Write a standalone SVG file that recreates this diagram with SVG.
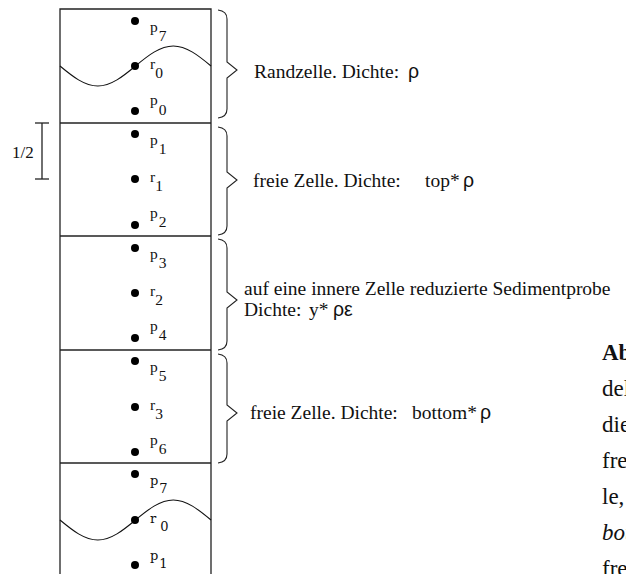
<svg xmlns="http://www.w3.org/2000/svg" width="626" height="574" viewBox="0 0 626 574">
  <style>
    .frame { fill: none; stroke: #222; stroke-width: 1.3; }
    .wave { fill: none; stroke: #111; stroke-width: 1.1; }
    .brace { fill: none; stroke: #222; stroke-width: 1.1; }
    .dot { fill: #000; }
    .lbl { font-family: "Liberation Serif", "Times New Roman", serif; font-size: 15.5px; fill: #111; }
    .lbl5 { font-family: "DejaVu Serif", serif; font-size: 13px; fill: #111; }
    .txt { font-family: "Liberation Serif", "Times New Roman", serif; font-size: 19.5px; fill: #111; }
    .greek { font-family: "Liberation Sans", Arial, sans-serif; }
    .body { font-family: "Liberation Serif", "Times New Roman", serif; font-size: 23px; fill: #111; }
  </style>

  <rect width="626" height="574" fill="#fff"/>

  <!-- column outline and cell dividers -->
  <g id="column" class="frame">
    <path d="M60,574 V9 H211 V574"/>
    <line x1="60" y1="123" x2="211" y2="123"/>
    <line x1="60" y1="236" x2="211" y2="236"/>
    <line x1="60" y1="350" x2="211" y2="350"/>
    <line x1="60" y1="463" x2="211" y2="463"/>
  </g>

  <!-- half-cell dimension -->
  <g id="half-mark">
    <g class="frame">
      <line x1="42" y1="123" x2="42" y2="179"/>
      <line x1="35" y1="123" x2="49" y2="123"/>
      <line x1="35" y1="179" x2="49" y2="179"/>
    </g>
    <text x="12" y="158" class="txt" style="font-size:17px">1/2</text>
  </g>

  <!-- cell 1: boundary cell -->
  <g id="cell-rand-top">
    <path class="wave" d="M60,66 C72.3,76.3 84.5,86 97.8,86 C111,86 123.2,76.3 135.5,66 C147.8,55.7 160,46 173.3,46 C186.5,46 198.7,55.7 211,66"/>
    <circle class="dot" cx="135" cy="21" r="4"/>
    <circle class="dot" cx="135" cy="66" r="4"/>
    <circle class="dot" cx="135" cy="111" r="4"/>
    <text class="lbl" x="150" y="32">p<tspan dx="1" dy="9">7</tspan></text>
    <text class="lbl" x="150" y="69">r<tspan dx="0" dy="9">0</tspan></text>
    <text class="lbl" x="150" y="105">p<tspan dx="1" dy="10">0</tspan></text>
  </g>

  <!-- cell 2: free cell -->
  <g id="cell-free-top">
    <circle class="dot" cx="135" cy="134" r="4"/>
    <circle class="dot" cx="135" cy="179" r="4"/>
    <circle class="dot" cx="135" cy="225" r="4"/>
    <text class="lbl" x="150" y="145">p<tspan dx="1" dy="9">1</tspan></text>
    <text class="lbl" x="150" y="182">r<tspan dx="0" dy="9">1</tspan></text>
    <text class="lbl" x="150" y="218">p<tspan dx="1" dy="9">2</tspan></text>
  </g>

  <!-- cell 3: reduced sample cell -->
  <g id="cell-sample">
    <circle class="dot" cx="135" cy="248" r="4"/>
    <circle class="dot" cx="135" cy="293" r="4"/>
    <circle class="dot" cx="135" cy="338" r="4"/>
    <text class="lbl" x="150" y="259">p<tspan dx="1" dy="9">3</tspan></text>
    <text class="lbl" x="150" y="296">r<tspan dx="0" dy="9">2</tspan></text>
    <text class="lbl" x="150" y="331">p<tspan dx="1" dy="9">4</tspan></text>
  </g>

  <!-- cell 4: free cell -->
  <g id="cell-free-bottom">
    <circle class="dot" cx="135" cy="361" r="4"/>
    <circle class="dot" cx="135" cy="407" r="4"/>
    <circle class="dot" cx="135" cy="452" r="4"/>
    <text class="lbl" x="150" y="372">p<tspan dx="1" dy="9">5</tspan></text>
    <text class="lbl" x="150" y="410">r<tspan dx="0" dy="9">3</tspan></text>
    <text class="lbl" x="150" y="445">p<tspan dx="1" dy="9">6</tspan></text>
  </g>

  <!-- cell 5: boundary cell (periodic repeat) -->
  <g id="cell-rand-bottom">
    <path class="wave" d="M60,520 C72.3,530.3 84.5,540 97.8,540 C111,540 123.2,530.3 135.5,520 C147.8,509.7 160,500 173.3,500 C186.5,500 198.7,509.7 211,520"/>
    <circle class="dot" cx="135" cy="474" r="4"/>
    <circle class="dot" cx="135" cy="520" r="4"/>
    <circle class="dot" cx="135" cy="565" r="4"/>
    <text class="lbl5" x="150" y="485">p<tspan dx="1" dy="8">7</tspan></text>
    <text class="lbl5" x="150" y="523">r<tspan dx="4" dy="8">0</tspan></text>
    <text class="lbl5" x="150" y="560">p<tspan dx="1" dy="8">1</tspan></text>
  </g>

  <!-- braces -->
  <g id="connectors" class="brace">
    <path d="M218,10 Q227,11 227,19 L227,62 L237,70 L227,78 L227,109 Q227,117 218,118"/>
    <path d="M218,127 Q227,128 227,136 L227,172 L237,180 L227,188 L227,226 Q227,234 218,235"/>
    <path d="M218,239 Q227,240 227,248 L227,292 L237,300 L227,308 L227,341 Q227,349 218,350"/>
    <path d="M218,354 Q227,355 227,363 L227,405 L237,413 L227,421 L227,454 Q227,462 218,463"/>
  </g>

  <!-- brace labels -->
  <g id="labels" class="txt">
    <text x="254" y="78">Randzelle. Dichte:<tspan class="greek" x="408">ρ</tspan></text>
    <text x="253" y="187">freie Zelle. Dichte:<tspan x="425">top*</tspan><tspan class="greek" x="463">ρ</tspan></text>
    <text x="244" y="295">auf eine innere Zelle reduzierte Sedimentprobe</text>
    <text x="244" y="316">Dichte:<tspan x="309">y*</tspan><tspan class="greek" x="333">ρε</tspan></text>
    <text x="250" y="419">freie Zelle. Dichte:<tspan x="412">bottom*</tspan><tspan class="greek" x="480">ρ</tspan></text>
  </g>

  <!-- running caption text at the page edge -->
  <g id="caption" class="body">
    <text x="602" y="360" font-weight="bold">Ab</text>
    <text x="602" y="396">del</text>
    <text x="602" y="432">die</text>
    <text x="602" y="468">fre</text>
    <text x="602" y="504">le,</text>
    <text x="602" y="540" font-style="italic">bot</text>
    <text x="602" y="576">fre</text>
  </g>
</svg>
